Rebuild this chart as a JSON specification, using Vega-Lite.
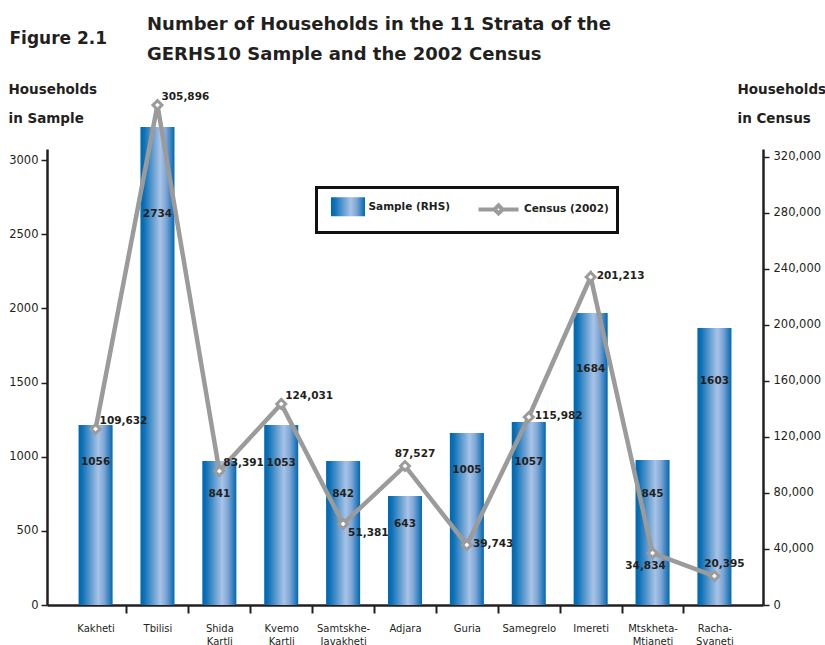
{
  "$schema": "https://vega.github.io/schema/vega-lite/v6.json",
  "width": 716,
  "height": 456,
  "autosize": {"type": "none"},
  "padding": {"left": 47, "top": 149, "right": 62, "bottom": 40},
  "background": "white",
  "title": {
    "text": ["Number of Households in the 11 Strata of the", "GERHS10 Sample and the 2002 Census"],
    "anchor": "start",
    "frame": "group",
    "orient": "top",
    "baseline": "bottom",
    "dx": 100,
    "dy": 52.5,
    "offset": 0,
    "font": "DejaVu Sans",
    "fontSize": 18,
    "fontWeight": "bold",
    "color": "#231f20",
    "lineHeight": 29.5
  },
  "data": {
    "values": [
      {"region": "Kakheti", "sample": 1214, "sampleLabel": 1056, "census": 125700, "censusLabel": 109632},
      {"region": "Tbilisi", "sample": 3223, "sampleLabel": 2734, "census": 357100, "censusLabel": 305896},
      {"region": "Shida Kartli", "sample": 971, "sampleLabel": 841, "census": 95700, "censusLabel": 83391},
      {"region": "Kvemo Kartli", "sample": 1214, "sampleLabel": 1053, "census": 143600, "censusLabel": 124031},
      {"region": "Samtskhe-Javakheti", "sample": 971, "sampleLabel": 842, "census": 57900, "censusLabel": 51381},
      {"region": "Adjara", "sample": 735, "sampleLabel": 643, "census": 99300, "censusLabel": 87527},
      {"region": "Guria", "sample": 1160, "sampleLabel": 1005, "census": 42900, "censusLabel": 39743},
      {"region": "Samegrelo", "sample": 1234, "sampleLabel": 1057, "census": 134300, "censusLabel": 115982},
      {"region": "Imereti", "sample": 1969, "sampleLabel": 1684, "census": 234300, "censusLabel": 201213},
      {"region": "Mtskheta-Mtianeti", "sample": 978, "sampleLabel": 845, "census": 37100, "censusLabel": 34834},
      {"region": "Racha-Svaneti", "sample": 1868, "sampleLabel": 1603, "census": 20700, "censusLabel": 20395}
    ]
  },
  "encoding": {
    "x": {
      "field": "region",
      "type": "nominal",
      "sort": null,
      "scale": {
        "domain": ["Kakheti", "Tbilisi", "Shida Kartli", "Kvemo Kartli", "Samtskhe-Javakheti", "Adjara", "Guria", "Samegrelo", "Imereti", "Mtskheta-Mtianeti", "Racha-Svaneti"],
        "paddingInner": 0.45,
        "paddingOuter": 0.51
      },
      "axis": {
        "title": "Figure 2.1",
        "titleX": -38,
        "titleY": -562,
        "titleAlign": "left",
        "titleBaseline": "alphabetic",
        "titleAngle": 0,
        "titleFont": "DejaVu Sans",
        "titleFontSize": 17,
        "titleFontWeight": "bold",
        "titleColor": "#231f20",
        "labelAngle": 0,
        "labelFont": "DejaVu Sans",
        "labelFontSize": 10,
        "labelColor": "#231f20",
        "labelLineHeight": 13,
        "labelPadding": 10,
        "labelOverlap": false,
        "labelExpr": "split(replace(replace(datum.label, '-', '-|'), ' ', '|'), '|')",
        "bandPosition": 1,
        "tickOffset": 13.9,
        "labelOffset": -13.9,
        "tickSize": 8,
        "tickWidth": 2,
        "tickColor": "#231f20",
        "tickOpacity": {"condition": {"test": "datum.value === 'Racha-Svaneti'", "value": 0}, "value": 1},
        "domainColor": "#231f20",
        "domainWidth": 2.5,
        "grid": false
      }
    }
  },
  "layer": [
    {
      "layer": [
        {
          "mark": {
            "type": "bar",
            "clip": false,
            "fill": {
              "gradient": "linear",
              "x1": 0, "y1": 0, "x2": 1, "y2": 0,
              "stops": [
                {"offset": 0, "color": "#0068b0"},
                {"offset": 0.1, "color": "#0a6fb6"},
                {"offset": 0.58, "color": "#a8c3e6"},
                {"offset": 0.75, "color": "#7fa6d6"},
                {"offset": 1, "color": "#0068b0"}
              ]
            }
          },
          "encoding": {
            "y": {
              "field": "sample",
              "type": "quantitative",
              "scale": {"domain": [0, 3075], "nice": false, "zero": true},
              "axis": {
                "orient": "left",
                "values": [0, 500, 1000, 1500, 2000, 2500, 3000],
                "format": "d",
                "title": ["Households", "in Sample"],
                "titleAngle": 0,
                "titleAlign": "left",
                "titleBaseline": "alphabetic",
                "titleX": -39,
                "titleY": -56,
                "titleLineHeight": 29,
                "titleFont": "DejaVu Sans",
                "titleFontSize": 13.5,
                "titleFontWeight": "bold",
                "titleColor": "#231f20",
                "labelFont": "DejaVu Sans",
                "labelFontSize": 11.5,
                "labelColor": "#231f20",
                "labelPadding": 3,
                "tickSize": 6,
                "tickWidth": 1.5,
                "tickColor": "#231f20",
                "domainColor": "#231f20",
                "domainWidth": 2.5,
                "grid": false
              }
            }
          }
        },
        {
          "mark": {"type": "text", "font": "DejaVu Sans", "fontWeight": "bold", "fontSize": 10.5, "color": "#231f20", "baseline": "middle", "dy": 14, "clip": false},
          "encoding": {
            "y": {"field": "sampleLabel", "type": "quantitative"},
            "text": {"field": "sampleLabel", "type": "quantitative", "format": "d"}
          }
        }
      ]
    },
    {
      "layer": [
        {
          "mark": {"type": "line", "strokeWidth": 4.5, "clip": false},
          "encoding": {
            "y": {
              "field": "census",
              "type": "quantitative",
              "scale": {"domain": [0, 325700], "nice": false, "zero": true},
              "axis": {
                "orient": "right",
                "values": [0, 40000, 80000, 120000, 160000, 200000, 240000, 280000, 320000],
                "format": ",d",
                "title": ["Households", "in Census"],
                "titleAngle": 0,
                "titleAlign": "left",
                "titleBaseline": "alphabetic",
                "titleX": -26,
                "titleY": -56,
                "titleLineHeight": 29,
                "titleFont": "DejaVu Sans",
                "titleFontSize": 13.5,
                "titleFontWeight": "bold",
                "titleColor": "#231f20",
                "labelFont": "DejaVu Sans",
                "labelFontSize": 11.5,
                "labelColor": "#231f20",
                "labelPadding": 4,
                "tickSize": 6,
                "tickWidth": 1.5,
                "tickColor": "#231f20",
                "domainColor": "#231f20",
                "domainWidth": 2.5,
                "grid": false
              }
            },
            "color": {
              "datum": "Census (2002)",
              "type": "nominal",
              "scale": {"domain": ["Sample (RHS)", "Census (2002)"], "range": ["transparent", "#9b9b9b"]},
              "legend": {
                "orient": "none",
                "legendX": 269.5,
                "legendY": 38.5,
                "direction": "horizontal",
                "title": null,
                "strokeColor": "#111111",
                "fillColor": "white",
                "padding": 8,
                "encoding": {"legend": {"strokeWidth": {"value": 3}}},
                "symbolSize": 324,
                "symbolStrokeWidth": 4,
                "symbolType": {"expr": "datum.value == 'Sample (RHS)' ? 'M-1.89,-1.06H1.89V1.06H-1.89Z' : 'M-2.78,0H-1M-0.1,0H1.67M-1,0L-0.55,-0.45L-0.1,0L-0.55,0.45Z'"},
                "symbolFillColor": {"expr": "datum.value == 'Sample (RHS)' ? {gradient: 'linear', x1: 0, y1: 0, x2: 1, y2: 0, stops: [{offset: 0, color: '#0068b0'}, {offset: 0.1, color: '#0a6fb6'}, {offset: 0.58, color: '#a8c3e6'}, {offset: 0.75, color: '#7fa6d6'}, {offset: 1, color: '#0068b0'}]} : 'white'"},
                "symbolOffset": 12.5,
                "labelOffset": 9.5,
                "columnPadding": 19.5,
                "labelFont": "DejaVu Sans",
                "labelFontWeight": "bold",
                "labelFontSize": 10.5,
                "labelColor": "#231f20"
              }
            }
          }
        },
        {
          "mark": {"type": "point", "shape": "diamond", "filled": false, "fill": "white", "stroke": "#9b9b9b", "strokeWidth": 3, "size": 80, "opacity": 1, "clip": false},
          "encoding": {"y": {"field": "census", "type": "quantitative"}}
        },
        {
          "transform": [{"filter": {"field": "region", "oneOf": ["Kakheti", "Tbilisi", "Shida Kartli", "Kvemo Kartli"]}}],
          "mark": {"type": "text", "font": "DejaVu Sans", "fontWeight": "bold", "fontSize": 10.5, "color": "#231f20", "align": "left", "baseline": "middle", "dx": 4, "dy": -8, "clip": false},
          "encoding": {
            "y": {"field": "census", "type": "quantitative"},
            "text": {"field": "censusLabel", "type": "quantitative", "format": ","}
          }
        },
        {
          "transform": [{"filter": {"field": "region", "oneOf": ["Samegrelo", "Imereti", "Guria"]}}],
          "mark": {"type": "text", "font": "DejaVu Sans", "fontWeight": "bold", "fontSize": 10.5, "color": "#231f20", "align": "left", "baseline": "middle", "dx": 6, "dy": -1, "clip": false},
          "encoding": {
            "y": {"field": "census", "type": "quantitative"},
            "text": {"field": "censusLabel", "type": "quantitative", "format": ","}
          }
        },
        {
          "transform": [{"filter": {"field": "region", "oneOf": ["Samtskhe-Javakheti"]}}],
          "mark": {"type": "text", "font": "DejaVu Sans", "fontWeight": "bold", "fontSize": 10.5, "color": "#231f20", "align": "left", "baseline": "middle", "dx": 5, "dy": 9, "clip": false},
          "encoding": {
            "y": {"field": "census", "type": "quantitative"},
            "text": {"field": "censusLabel", "type": "quantitative", "format": ","}
          }
        },
        {
          "transform": [{"filter": {"field": "region", "oneOf": ["Adjara", "Racha-Svaneti"]}}],
          "mark": {"type": "text", "font": "DejaVu Sans", "fontWeight": "bold", "fontSize": 10.5, "color": "#231f20", "align": "center", "baseline": "middle", "dx": 10, "dy": -12, "clip": false},
          "encoding": {
            "y": {"field": "census", "type": "quantitative"},
            "text": {"field": "censusLabel", "type": "quantitative", "format": ","}
          }
        },
        {
          "transform": [{"filter": {"field": "region", "oneOf": ["Mtskheta-Mtianeti"]}}],
          "mark": {"type": "text", "font": "DejaVu Sans", "fontWeight": "bold", "fontSize": 10.5, "color": "#231f20", "align": "center", "baseline": "middle", "dx": -7, "dy": 13, "clip": false},
          "encoding": {
            "y": {"field": "census", "type": "quantitative"},
            "text": {"field": "censusLabel", "type": "quantitative", "format": ","}
          }
        }
      ]
    }
  ],
  "resolve": {"scale": {"y": "independent"}},
  "config": {
    "view": {"stroke": null},
    "font": "DejaVu Sans"
  }
}
